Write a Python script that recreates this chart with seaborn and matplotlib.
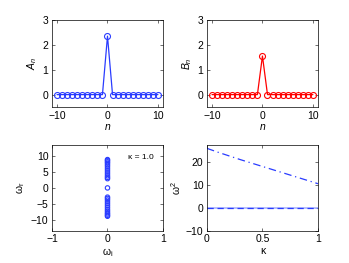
import numpy as np
import pandas as pd
import seaborn as sns
import matplotlib
matplotlib.use('Agg')
import matplotlib.pyplot as plt

# data
n_sites = list(range(-10, 11))
A_n = [0]*10 + [2.35] + [0]*10
B_n = [0]*10 + [1.55] + [0]*10

omega_r = [-8.9, -8.6, -8.2, -7.8, -7.3, -6.8, -6.2, -5.6, -5.0, -4.4, -3.8, -3.3, -2.9,
           0.0,
           2.9, 3.3, 3.8, 4.4, 5.0, 5.6, 6.2, 6.8, 7.3, 7.8, 8.2, 8.6, 8.9]
omega_i = [0.0] * len(omega_r)

kappa = [0.0, 0.1, 0.2, 0.3, 0.4, 0.5, 0.6, 0.7, 0.8, 0.9, 1.0]
omega2_upper = [26.0, 24.3, 22.7, 21.1, 19.6, 18.1, 16.6, 15.1, 13.6, 12.1, 10.6]
omega2_zero = [0.0] * len(kappa)

sns.set_style('ticks')
plt.rcParams['font.family'] = ['Liberation Sans', 'DejaVu Sans']
plt.rcParams['font.size'] = 7.5
plt.rcParams['mathtext.fontset'] = 'custom'
plt.rcParams['mathtext.it'] = 'Liberation Sans:italic'
plt.rcParams['mathtext.rm'] = 'Liberation Sans'
for key in ['text.color', 'axes.labelcolor', 'xtick.color', 'ytick.color']:
    plt.rcParams[key] = 'black'

blue = '#2a3cff'
red = '#ff0000'

fig = plt.figure(figsize=(3.49, 2.63), dpi=100)
ax1 = fig.add_axes([0.149, 0.593, 0.318, 0.331])
ax2 = fig.add_axes([0.593, 0.593, 0.318, 0.331])
ax3 = fig.add_axes([0.149, 0.122, 0.318, 0.327])
ax4 = fig.add_axes([0.593, 0.122, 0.318, 0.327])

def style(ax):
    ax.tick_params(direction='in', top=True, right=True, length=2, width=0.4,
                   labelsize=7.5, pad=2.5)
    for s in ax.spines.values():
        s.set_linewidth(0.5)
        s.set_color('black')

df_top = pd.DataFrame({'n': n_sites, 'A': A_n, 'B': B_n})
sns.lineplot(data=df_top, x='n', y='A', ax=ax1, color=blue, lw=0.9, marker='o',
             markersize=4.3, markerfacecolor='none', markeredgecolor=blue, markeredgewidth=0.8)
sns.lineplot(data=df_top, x='n', y='B', ax=ax2, color=red, lw=0.9, marker='o',
             markersize=4.3, markerfacecolor='none', markeredgecolor=red, markeredgewidth=0.8)
for ax, lab in [(ax1, '$A_n$'), (ax2, '$B_n$')]:
    ax.set_xlim(-11, 11)
    ax.set_ylim(-0.5, 3)
    ax.set_xticks([-10, 0, 10])
    ax.set_yticks([0, 1, 2, 3])
    ax.set_xlabel('$n$', labelpad=1, fontsize=7.5)
    ax.set_ylabel(lab, labelpad=2.5, fontsize=7.5)
    style(ax)

df_om = pd.DataFrame({'wi': omega_i, 'wr': omega_r})
sns.scatterplot(data=df_om, x='wi', y='wr', ax=ax3, marker='o', s=10,
                facecolor='none', edgecolor=blue, linewidth=0.8)
ax3.set_xlim(-1, 1)
ax3.set_ylim(-13.5, 13.5)
ax3.set_xticks([-1, 0, 1])
ax3.set_yticks([-10, -5, 0, 5, 10])
ax3.set_xlabel('ω$_{\\mathrm{i}}$', labelpad=1, fontsize=7.5)
ax3.set_ylabel('ω$_{\\mathrm{r}}$', labelpad=2.5, fontsize=7.5)
ax3.text(0.37, 9.6, 'κ = 1.0', fontsize=6, va='center')
style(ax3)

df_k = pd.DataFrame({'k': kappa, 'up': omega2_upper, 'zero': omega2_zero})
sns.lineplot(data=df_k, x='k', y='zero', ax=ax4, color='#a8b4ff', lw=1.2)
sns.lineplot(data=df_k, x='k', y='zero', ax=ax4, color=blue, lw=0.9, ls=(0, (5, 3)))
sns.lineplot(data=df_k, x='k', y='up', ax=ax4, color=blue, lw=0.9, ls=(0, (6, 3, 1, 3)))
ax4.set_xlim(0, 1)
ax4.set_ylim(-10, 27.5)
ax4.set_xticks([0, 0.5, 1])
ax4.set_xticklabels(['0', '0.5', '1'])
ax4.set_yticks([-10, 0, 10, 20])
ax4.set_xlabel('κ', labelpad=1, fontsize=7.5)
ax4.set_ylabel('ω$^2$', labelpad=2, fontsize=7.5)
style(ax4)

fig.savefig('out.png', dpi=100)
